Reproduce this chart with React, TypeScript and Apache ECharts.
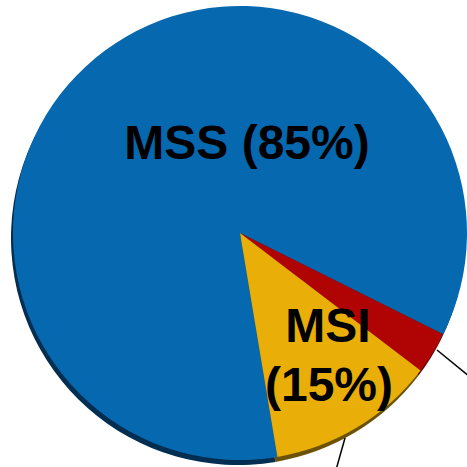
import React, { useEffect, useRef } from "react";
import * as echarts from "echarts";

const categories = ["MSS", "MSI-H", "MSI-L"];
const values = [85, 3, 12];
const colors = ["#0668AF", "#B00404", "#E9AE08"];
const rimColors = ["#022E52", "#5A0505", "#6B5206"];
const labelMSS = "MSS (85%)";
const labelMSI = ["MSI", "(15%)"];

export default function App() {
  const ref = useRef<HTMLDivElement>(null);
  useEffect(() => {
    if (!ref.current) return;
    const chart = echarts.init(ref.current, null, { renderer: "svg" });
    const data = categories.map((c, i) => ({
      name: c,
      value: values[i],
      itemStyle: { color: colors[i] },
    }));
    const rimData = categories.map((c, i) => ({
      name: c,
      value: values[i],
      itemStyle: { color: rimColors[i] },
    }));
    const font = "bold 48px Arial, 'Liberation Sans', sans-serif";
    const txt = (text: string, x: number, y: number) => ({
      type: "text",
      x,
      y,
      z: 100,
      style: {
        text,
        font,
        fill: "#000",
        align: "center",
        verticalAlign: "middle",
      },
    });
    chart.setOption({
      animation: false,
      series: [
        {
          type: "pie",
          center: [238, 238],
          radius: 227,
          startAngle: 279.5,
          clockwise: true,
          label: { show: false },
          labelLine: { show: false },
          silent: true,
          data: rimData,
        },
        {
          type: "pie",
          center: [240, 233],
          radius: 227,
          startAngle: 279.5,
          clockwise: true,
          label: { show: false },
          labelLine: { show: false },
          itemStyle: { borderWidth: 0 },
          data,
        },
      ],
      graphic: [
        txt(labelMSS, 247, 142),
        txt(labelMSI[0], 328, 325),
        txt(labelMSI[1], 329, 384),
        {
          type: "line",
          z: 100,
          shape: { x1: 345, y1: 438, x2: 336, y2: 470 },
          style: { stroke: "#000", lineWidth: 1.5 },
        },
        {
          type: "line",
          z: 100,
          shape: { x1: 437, y1: 350, x2: 470, y2: 377 },
          style: { stroke: "#000", lineWidth: 1.5 },
        },
      ],
    });
    return () => chart.dispose();
  }, []);
  return (
    <div
      ref={ref}
      style={{ position: "absolute", left: 0, top: 0, width: 467, height: 467, background: "#fff" }}
    />
  );
}
